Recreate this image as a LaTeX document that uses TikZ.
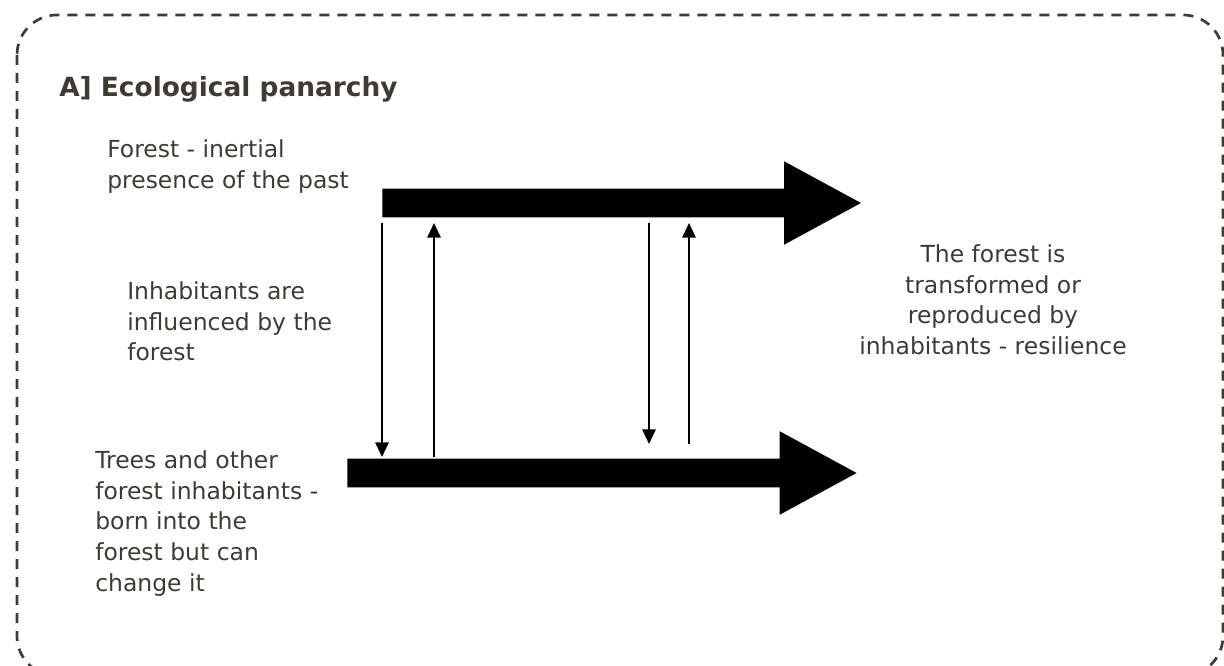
\documentclass[tikz,border=0pt]{standalone}
\usepackage{fontspec}
\setmainfont{DejaVu Sans}
\usepackage{tikz}
\usetikzlibrary{arrows.meta,shapes.arrows}
\usepackage{xcolor}
\definecolor{inkgray}{RGB}{62,59,55}

\begin{document}
\begin{tikzpicture}[x=0.75pt,y=-0.75pt,>={Triangle[length=11pt,width=10pt]},
  label/.style={text=inkgray,inner sep=0pt,font=\fontsize{17.6pt}{22.9pt}\selectfont},
  bigarrow/.style={single arrow,fill=black,inner xsep=0pt,inner ysep=10.5pt,text height=0pt,text depth=0pt,
    single arrow head extend=20.6pt,single arrow tip angle=57,minimum height=359pt,anchor=tail},
  thin/.style={->,line width=1.5pt}]
\useasboundingbox (0,0) rectangle (1224,666);
\draw[inkgray,line width=2pt,dash pattern=on 7.5pt off 6pt,rounded corners=30pt] (17,15) rectangle (1223,676);
\node[text=inkgray,inner sep=0pt,anchor=base west,font=\fontsize{19.8pt}{24pt}\selectfont\bfseries] (title) at (59,97) {A] Ecological panarchy};
% multi-line nodes: base is the last line
\node[label,anchor=base west,align=left] (pasttext) at (107,188.5) {Forest - inertial\\presence of the past};
\node[label,anchor=base west,align=left] (influencetext) at (127,361) {Inhabitants are\\influenced by the\\forest};
\node[label,anchor=base west,align=left] (inhabtext) at (95,591) {Trees and other\\forest inhabitants -\\born into the\\forest but can\\change it};
\node[label,anchor=base,align=center] (resiltext) at (993,354.5) {The forest is\\transformed or\\reproduced by\\inhabitants - resilience};
\node[bigarrow] (pastarrow) at (382,203) {};
\node[bigarrow,minimum height=382pt] (inhabarrow) at (347,473) {};
% feedback between the two time lines
\coordinate (down1a) at (382,223); \coordinate (down1b) at (382,457);
\coordinate (up1a) at (434,457); \coordinate (up1b) at (434,223);
\coordinate (down2a) at (649,223); \coordinate (down2b) at (649,444);
\coordinate (up2a) at (689,444); \coordinate (up2b) at (689,223);
\draw[thin] (down1a) -- (down1b);
\draw[thin] (up1a) -- (up1b);
\draw[thin] (down2a) -- (down2b);
\draw[thin] (up2a) -- (up2b);
\end{tikzpicture}
\end{document}
